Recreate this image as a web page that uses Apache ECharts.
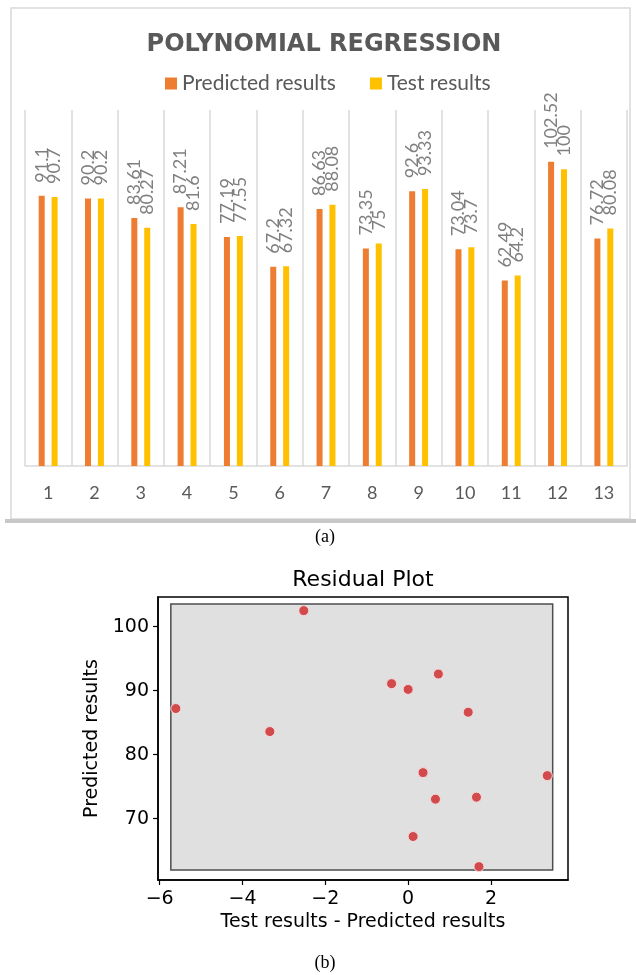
<!DOCTYPE html>
<html lang="en">
<head>
  <meta charset="UTF-8">
  <title>Polynomial regression</title>
  <style>
    html, body { margin: 0; padding: 0; background: #fff; }
  </style>
</head>
<body>
  <div id="main" style="width: 636px;height: 975px;"></div>
  <script src="https://cdn.jsdelivr.net/npm/echarts@6/dist/echarts.min.js"></script>
  <script>
    var categories = ['1', '2', '3', '4', '5', '6', '7', '8', '9', '10', '11', '12', '13'];
    var predicted = [91.1, 90.2, 83.61, 87.21, 77.19, 67.2, 86.63, 73.35, 92.6, 73.04, 62.49, 102.52, 76.72];
    var tested = [90.7, 90.2, 80.27, 81.6, 77.55, 67.32, 88.08, 75, 93.33, 73.7, 64.2, 100, 80.08];
    // residual = test - predicted (b)
    var residuals = [-0.4, 0, -3.34, -5.61, 0.36, 0.12, 1.45, 1.65, 0.73, 0.66, 1.71, -2.52, 3.36];
    var xTicks = [-6, -4, -2, 0, 2];
    var yTicks = [70, 80, 90, 100];
    var shadeBox = [[-5.73, 61.97], [3.49, 103.55]];

    var scatterData = residuals.map(function (r, i) { return [r, predicted[i]]; });

    var myChart = echarts.init(document.getElementById('main'));
    var sans = 'DejaVu Sans';
    var excel = 'Lato';

    var barLabel = {
      show: true,
      position: 'top',
      rotate: 90,
      align: 'left',
      verticalAlign: 'middle',
      distance: 13,
      color: '#7f7f7f',
      fontFamily: excel,
      fontSize: 18
    };

    myChart.setOption({
      animation: false,
      backgroundColor: '#fff',
      title: [{
        text: 'POLYNOMIAL REGRESSION',
        left: 324,
        top: 33,
        padding: 0,
        textAlign: 'center',
        textStyle: { fontFamily: sans, fontWeight: 'bold', fontSize: 24, color: '#595959' }
      }, {
        text: 'Residual Plot',
        left: 363,
        top: 569,
        padding: 0,
        textAlign: 'center',
        textStyle: { fontFamily: sans, fontWeight: 'normal', fontSize: 22, color: '#000' }
      }, {
        text: '(a)',
        left: 325,
        top: 528,
        padding: 0,
        textAlign: 'center',
        textStyle: { fontFamily: 'Liberation Serif', fontWeight: 'normal', fontSize: 18, color: '#000' }
      }, {
        text: '(b)',
        left: 325,
        top: 954,
        padding: 0,
        textAlign: 'center',
        textStyle: { fontFamily: 'Liberation Serif', fontWeight: 'normal', fontSize: 18, color: '#000' }
      }],
      legend: {
        data: ['Predicted results', 'Test results'],
        left: 165,
        top: 73,
        padding: 0,
        icon: 'rect',
        itemWidth: 12,
        itemHeight: 12,
        itemGap: 34,
        textStyle: { fontFamily: excel, fontSize: 21, color: '#595959' }
      },
      graphic: [{
        type: 'rect',
        shape: { x: 11, y: 8, width: 619, height: 511 },
        style: { fill: 'none', stroke: '#d9d9d9', lineWidth: 1.5 },
        silent: true
      }, {
        type: 'rect',
        shape: { x: 5, y: 519, width: 631, height: 4 },
        style: { fill: '#c8c8c8' },
        silent: true
      }],
      grid: [{
        left: 25, top: 110, width: 602, height: 356
      }, {
        left: 158, top: 597, width: 410, height: 283,
        show: true, borderColor: '#000', borderWidth: 1.5, backgroundColor: '#fff'
      }],
      xAxis: [{
        gridIndex: 0,
        type: 'category',
        data: categories,
        axisLine: { lineStyle: { color: '#d9d9d9', width: 1.5 } },
        axisTick: { show: false },
        splitLine: { show: true, lineStyle: { color: '#d9d9d9', width: 1.5 } },
        axisLabel: { margin: 18, fontFamily: excel, fontSize: 18, color: '#595959' }
      }, {
        gridIndex: 1,
        type: 'value',
        min: -6.04,
        max: 3.86,
        name: 'Test results - Predicted results',
        nameLocation: 'middle',
        nameGap: 33,
        nameTextStyle: { fontFamily: sans, fontSize: 19, color: '#000' },
        axisLine: { onZero: false, lineStyle: { color: '#000', width: 1.5 } },
        axisTick: { customValues: xTicks, length: 5, lineStyle: { color: '#000', width: 1.2 } },
        axisLabel: {
          customValues: xTicks,
          margin: 10,
          fontFamily: sans, fontSize: 19, color: '#000',
          formatter: function (v) { return String(v).replace('-', '\u2212'); }
        },
        splitLine: { show: false }
      }],
      yAxis: [{
        gridIndex: 0,
        type: 'value',
        min: 0,
        max: 120,
        show: false,
        splitLine: { show: false }
      }, {
        gridIndex: 1,
        type: 'value',
        min: 60.4,
        max: 104.65,
        name: 'Predicted results',
        nameLocation: 'middle',
        nameGap: 49,
        nameTextStyle: { fontFamily: sans, fontSize: 19, color: '#000' },
        axisLine: { onZero: false, lineStyle: { color: '#000', width: 1.5 } },
        axisTick: { customValues: yTicks, length: 5, lineStyle: { color: '#000', width: 1.2 } },
        axisLabel: { customValues: yTicks, margin: 9, fontFamily: sans, fontSize: 19, color: '#000' },
        splitLine: { show: false }
      }],
      series: [{
        name: 'Predicted results',
        type: 'bar',
        xAxisIndex: 0,
        yAxisIndex: 0,
        data: predicted,
        barWidth: 6,
        barGap: '115%',
        itemStyle: { color: '#ED7D31' },
        label: barLabel
      }, {
        name: 'Test results',
        type: 'bar',
        xAxisIndex: 0,
        yAxisIndex: 0,
        data: tested,
        barWidth: 6,
        barGap: '115%',
        itemStyle: { color: '#FFC000' },
        label: barLabel
      }, {
        name: 'Residuals',
        type: 'scatter',
        xAxisIndex: 1,
        yAxisIndex: 1,
        data: scatterData,
        symbolSize: 10,
        itemStyle: { color: '#d34a4d', borderColor: '#f3dede', borderWidth: 1, opacity: 1 },
        markArea: {
          silent: true,
          itemStyle: { color: '#e0e0e0', borderColor: '#4d4d4d', borderWidth: 1.5 },
          label: { show: false },
          data: [[{ coord: shadeBox[0] }, { coord: shadeBox[1] }]]
        }
      }]
    });
  </script>
</body>
</html>
